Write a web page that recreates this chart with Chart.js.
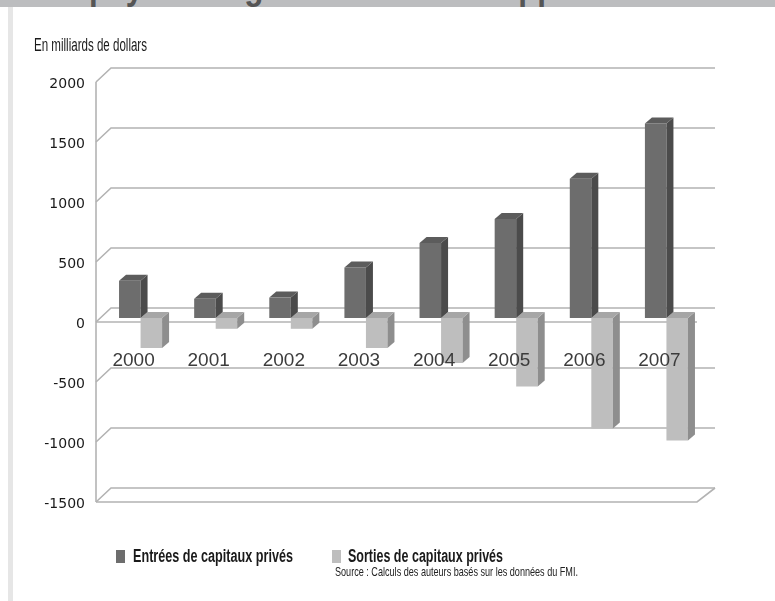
<!DOCTYPE html>
<html lang="fr">
<head>
<meta charset="utf-8">
<script src="https://cdn.jsdelivr.net/npm/chart.js@4.4.1/dist/chart.umd.min.js"></script>
<style>
  html, body { margin: 0; padding: 0; background: #fff; }
  #wrap { position: relative; width: 775px; height: 601px; overflow: hidden; background: #fff; }
  #band { position: absolute; left: 0; top: 0; width: 775px; height: 7px; background: #bcbdbf; overflow: hidden; z-index: 2; }
  #band span { position: absolute; left: 89px; top: -31px; font: bold 36px/36px "Liberation Sans", sans-serif; color: #555; white-space: nowrap; transform-origin: left center; }
  #strip { position: absolute; left: 8px; top: 7px; width: 5px; height: 594px; background: #e6e6e6; z-index: 2; }
  #chart { position: absolute; left: 0; top: 0; }
  .txt { position: absolute; z-index: 2; white-space: nowrap; font-family: "Liberation Sans", sans-serif; color: #1a1a1a; transform-origin: left center; }
  #unit { left: 34px; top: 35px; font-size: 18px; line-height: 20px; }
  .lg { top: 546px; font-size: 18px; line-height: 21px; font-weight: bold; }
  .mk { position: absolute; z-index: 2; top: 550px; width: 9px; height: 13px; }
  #source { left: 335px; top: 564px; font-size: 13px; line-height: 15px; color: #222; }
</style>
</head>
<body>
<div id="wrap">
  <div id="band"><span id="bandText">pays émergents et en développement</span></div>
  <div id="strip"></div>
  <div id="unit" class="txt">En milliards de dollars</div>
  <canvas id="chart" width="775" height="601"></canvas>
  <div class="mk" style="left:116px;background:#6d6d6d"></div>
  <div id="lg1" class="txt lg" style="left:133px">Entrées de capitaux privés</div>
  <div class="mk" style="left:332px;background:#bebebe"></div>
  <div id="lg2" class="txt lg" style="left:348px">Sorties de capitaux privés</div>
  <div id="source" class="txt">Source : Calculs des auteurs basés sur les données du FMI.</div>
</div>
<script>
// Data (milliards de dollars)
const years = ['2000', '2001', '2002', '2003', '2004', '2005', '2006', '2007'];
const entrees = [310, 160, 170, 420, 625, 825, 1160, 1620];
const sorties = [-250, -90, -90, -250, -375, -570, -920, -1020];
const yTicks = [2000, 1500, 1000, 500, 0, -500, -1000, -1500];

const frontColors = ['#6d6d6d', '#bebebe'];
const sideColors = ['#4b4b4b', '#8e8e8e'];
const topColors = ['#5c5c5c', '#a6a6a6'];
const gridColor = '#b3b3b3';

// depth of the fake 3D boxes
const DX = 7, DY = -6;

// the original uses a condensed face, squeeze the text to the same width
function fitWidth(id, w) {
  const el = document.getElementById(id);
  const r = el.getBoundingClientRect().width;
  el.style.transform = 'scaleX(' + (w / r) + ')';
}
fitWidth('unit', 113);
fitWidth('lg1', 160);
fitWidth('lg2', 155);
fitWidth('source', 243);
fitWidth('bandText', 560);

function poly(ctx, pts, color) {
  ctx.beginPath();
  ctx.moveTo(pts[0][0], pts[0][1]);
  for (let i = 1; i < pts.length; i++) ctx.lineTo(pts[i][0], pts[i][1]);
  ctx.closePath();
  ctx.fillStyle = color;
  ctx.fill();
}

const bar3d = {
  id: 'bar3d',
  beforeDatasetsDraw(chart) {
    const ctx = chart.ctx;
    const y = chart.scales.y;
    const area = chart.chartArea;
    const fx = area.left - 7;       // front wall
    const bx = fx + 15;             // back wall
    const right = area.right + 11;
    const frontRight = area.right - 7;
    ctx.save();
    ctx.strokeStyle = gridColor;
    ctx.lineWidth = 1.6;
    yTicks.forEach(v => {
      const fy = y.getPixelForValue(v) + 4;
      const by = y.getPixelForValue(v) - 10;
      ctx.beginPath();
      ctx.moveTo(fx, fy);
      ctx.lineTo(bx, by);
      ctx.lineTo(right, by);
      ctx.stroke();
    });
    // left wall
    const top = y.getPixelForValue(yTicks[0]) + 4;
    const bot = y.getPixelForValue(yTicks[yTicks.length - 1]) + 4;
    ctx.beginPath();
    ctx.moveTo(fx, top);
    ctx.lineTo(fx, bot);
    ctx.stroke();
    // floor front edge
    ctx.beginPath();
    ctx.moveTo(fx, bot);
    ctx.lineTo(frontRight, bot);
    ctx.lineTo(right, bot - 14);
    ctx.stroke();
    // zero front line
    const zy = y.getPixelForValue(0) + 4;
    ctx.beginPath();
    ctx.moveTo(fx, zy);
    ctx.lineTo(frontRight, zy);
    ctx.stroke();

    // y tick labels
    ctx.fillStyle = '#1a1a1a';
    ctx.font = '14px "DejaVu Sans", sans-serif';
    ctx.textAlign = 'right';
    ctx.textBaseline = 'middle';
    yTicks.forEach(v => {
      ctx.fillText(String(v), 85, y.getPixelForValue(v) + 6);
    });
    ctx.restore();
  },
  afterDatasetDraw(chart, args) {
    const ctx = chart.ctx;
    const i = args.index;
    ctx.save();
    args.meta.data.forEach(bar => {
      const p = bar.getProps(['x', 'y', 'base', 'width'], true);
      const x1 = p.x - p.width / 2;
      const x2 = p.x + p.width / 2;
      const t = Math.min(p.y, p.base);
      const b = Math.max(p.y, p.base);
      poly(ctx, [[x2, t], [x2 + DX, t + DY], [x2 + DX, b + DY], [x2, b]], sideColors[i]);
      poly(ctx, [[x1, t], [x1 + DX, t + DY], [x2 + DX, t + DY], [x2, t]], topColors[i]);
    });
    ctx.restore();
  },
  afterDatasetsDraw(chart) {
    const ctx = chart.ctx;
    const x = chart.scales.x;
    const y = chart.scales.y;
    ctx.save();
    ctx.fillStyle = '#3c3c3c';
    ctx.font = '19px "Liberation Sans", sans-serif';
    ctx.textAlign = 'center';
    ctx.textBaseline = 'middle';
    years.forEach((yr, k) => {
      ctx.fillText(yr, x.getPixelForValue(k) - 7, y.getPixelForValue(-500) - 17);
    });
    ctx.restore();
  }
};

new Chart(document.getElementById('chart'), {
  type: 'bar',
  data: {
    labels: years,
    datasets: [
      { label: 'Entrées de capitaux privés', data: entrees, backgroundColor: frontColors[0] },
      { label: 'Sorties de capitaux privés', data: sorties, backgroundColor: frontColors[1] }
    ]
  },
  options: {
    responsive: false,
    animation: false,
    layout: { padding: { left: 103, right: 71, top: 78, bottom: 103 } },
    datasets: { bar: { categoryPercentage: 0.573, barPercentage: 1.0 } },
    plugins: { legend: { display: false }, tooltip: { enabled: false } },
    scales: {
      x: { display: false },
      y: { display: false, min: -1500, max: 2000 }
    }
  },
  plugins: [bar3d]
});
</script>
</body>
</html>
